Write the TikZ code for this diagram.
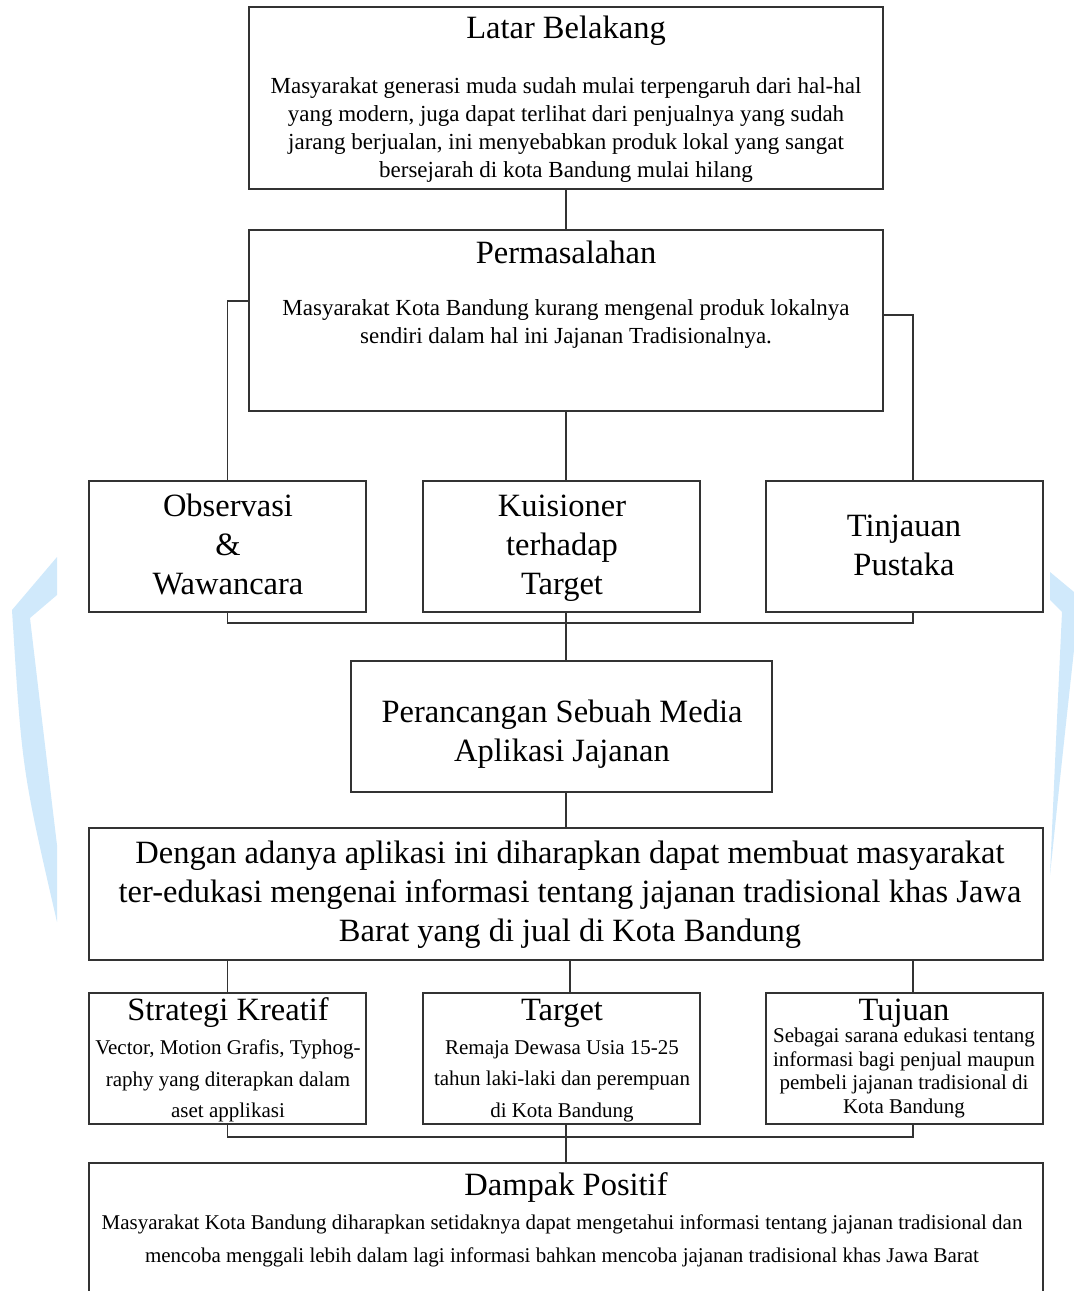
\documentclass[tikz,border=0pt]{standalone}
\usepackage{fontspec}
\setmainfont{Liberation Serif}
\usetikzlibrary{fit}
\definecolor{biru}{RGB}{208,233,251}
\tikzset{
  kotak/.style={draw=black!80, line width=1.6pt, rectangle, inner sep=0pt},
  garis/.style={draw=black!80, line width=1.6pt},
  judul/.style={font=\fontsize{32.5}{39}\selectfont, align=center, inner sep=0pt},
  isi/.style={font=\fontsize{23}{28}\selectfont, align=center, inner sep=0pt},
  kecil/.style={font=\fontsize{21}{#1}\selectfont, align=center, inner sep=0pt},
}
\newcommand{\kotak}[3]{%
 \node[kotak, fit={(#2) (#3)}] ({#1}) {};%
}
\begin{document}
\begin{tikzpicture}[x=1pt,y=-1pt]
  \useasboundingbox (0,0) rectangle (1074,1291);
  % latar watermark
  \fill[biru] (57,557) -- (12,610) .. controls (22,770) .. (57,922) -- (57,845)
     .. controls (42,720) .. (30,618) -- (57,595) -- cycle;
  \fill[biru] (1050,572) -- (1074,592) -- (1074,650) .. controls (1062,760) .. (1050,875)
     .. controls (1056,740) .. (1062,612) -- (1050,600) -- cycle;

  \kotak{lb}{249,7}{883,189}
  \node[judul] (lbj) at (566,31) {Latar Belakang};
  \node[isi] (lbi) at (566,130) {Masyarakat generasi muda sudah mulai terpengaruh dari hal-hal\\
    yang modern, juga dapat terlihat dari penjualnya yang sudah\\
    jarang berjualan, ini menyebabkan produk lokal yang sangat\\
    bersejarah di kota Bandung mulai hilang};

  \kotak{pm}{249,230}{883,411}
  \node[judul] (pmj) at (566,252) {Permasalahan};
  \node[isi] (pmi) at (566,324) {Masyarakat Kota Bandung kurang mengenal produk lokalnya\\
    sendiri dalam hal ini Jajanan Tradisionalnya.};

  \kotak{ob}{89,481}{366,612}
  \node[judul] (obj) at (228,544) {Observasi\\\&\\Wawancara};
  \kotak{ku}{423,481}{700,612}
  \node[judul] (kuj) at (562,548) {Kuisioner\\terhadap\\Target};
  \kotak{tp}{766,481}{1043,612}
  \node[judul] (tpj) at (904,545) {Tinjauan\\Pustaka};

  \kotak{pr}{351,661}{772,792}
  \node[judul] (prj) at (562,734) {Perancangan Sebuah Media\\Aplikasi Jajanan};

  \kotak{dg}{89,828}{1043,960}
  \node[judul] (dgj) at (570,895) {Dengan adanya aplikasi ini diharapkan dapat membuat masyarakat\\
    ter-edukasi mengenai informasi tentang jajanan tradisional khas Jawa\\
    Barat yang di jual di Kota Bandung};

  \kotak{st}{89,993}{366,1124}
  \node[judul] (stj) at (228,1013) {Strategi Kreatif};
  \node[kecil=31.5] (sti) at (228,1081) {Vector, Motion Grafis, Typhog-\\
    raphy yang diterapkan dalam\\aset applikasi};
  \kotak{ta}{423,993}{700,1124}
  \node[judul] (taj) at (562,1013) {Target};
  \node[kecil=31.5] (tai) at (562,1081) {Remaja Dewasa Usia 15-25\\
    tahun laki-laki dan perempuan\\di Kota Bandung};
  \kotak{tu}{766,993}{1043,1124}
  \node[judul] (tuj) at (904,1013) {Tujuan};
  \node[kecil=23.5] (tui) at (904,1073) {Sebagai sarana edukasi tentang\\
    informasi bagi penjual maupun\\pembeli jajanan tradisional di\\Kota Bandung};

  \kotak{dp}{89,1163}{1043,1310}
  \node[judul] (dpj) at (566,1188) {Dampak Positif};
  \node[kecil=33] (dpi) at (562,1241) {Masyarakat Kota Bandung diharapkan setidaknya dapat mengetahui informasi tentang jajanan tradisional dan\\
    mencoba menggali lebih dalam lagi informasi bahkan mencoba jajanan tradisional khas Jawa Barat};

  % garis penghubung
  \draw[garis] (lb.south) -- (pm.north);
  \draw[garis] (pm.west |- 0,301) -| (ob.north);
  \draw[garis] (pm.east |- 0,315) -| (913,0 |- tp.north);
  \draw[garis] (pm.south) -- (pm.south |- ku.north);
  \draw[garis] (ob.south) |- (913,623) -- (913,0 |- tp.south);
  \draw[garis] (566,0 |- ku.south) -- (566,0 |- pr.north);
  \draw[garis] (566,0 |- pr.south) -- (dg.north);
  \draw[garis] (st.north |- dg.south) -- (st.north);
  \draw[garis] (570,0 |- dg.south) -- (570,0 |- ta.north);
  \draw[garis] (913,0 |- dg.south) -- (913,0 |- tu.north);
  \draw[garis] (st.south) |- (913,1137) -- (913,0 |- tu.south);
  \draw[garis] (566,0 |- ta.south) -- (566,0 |- dp.north);
\end{tikzpicture}
\end{document}
